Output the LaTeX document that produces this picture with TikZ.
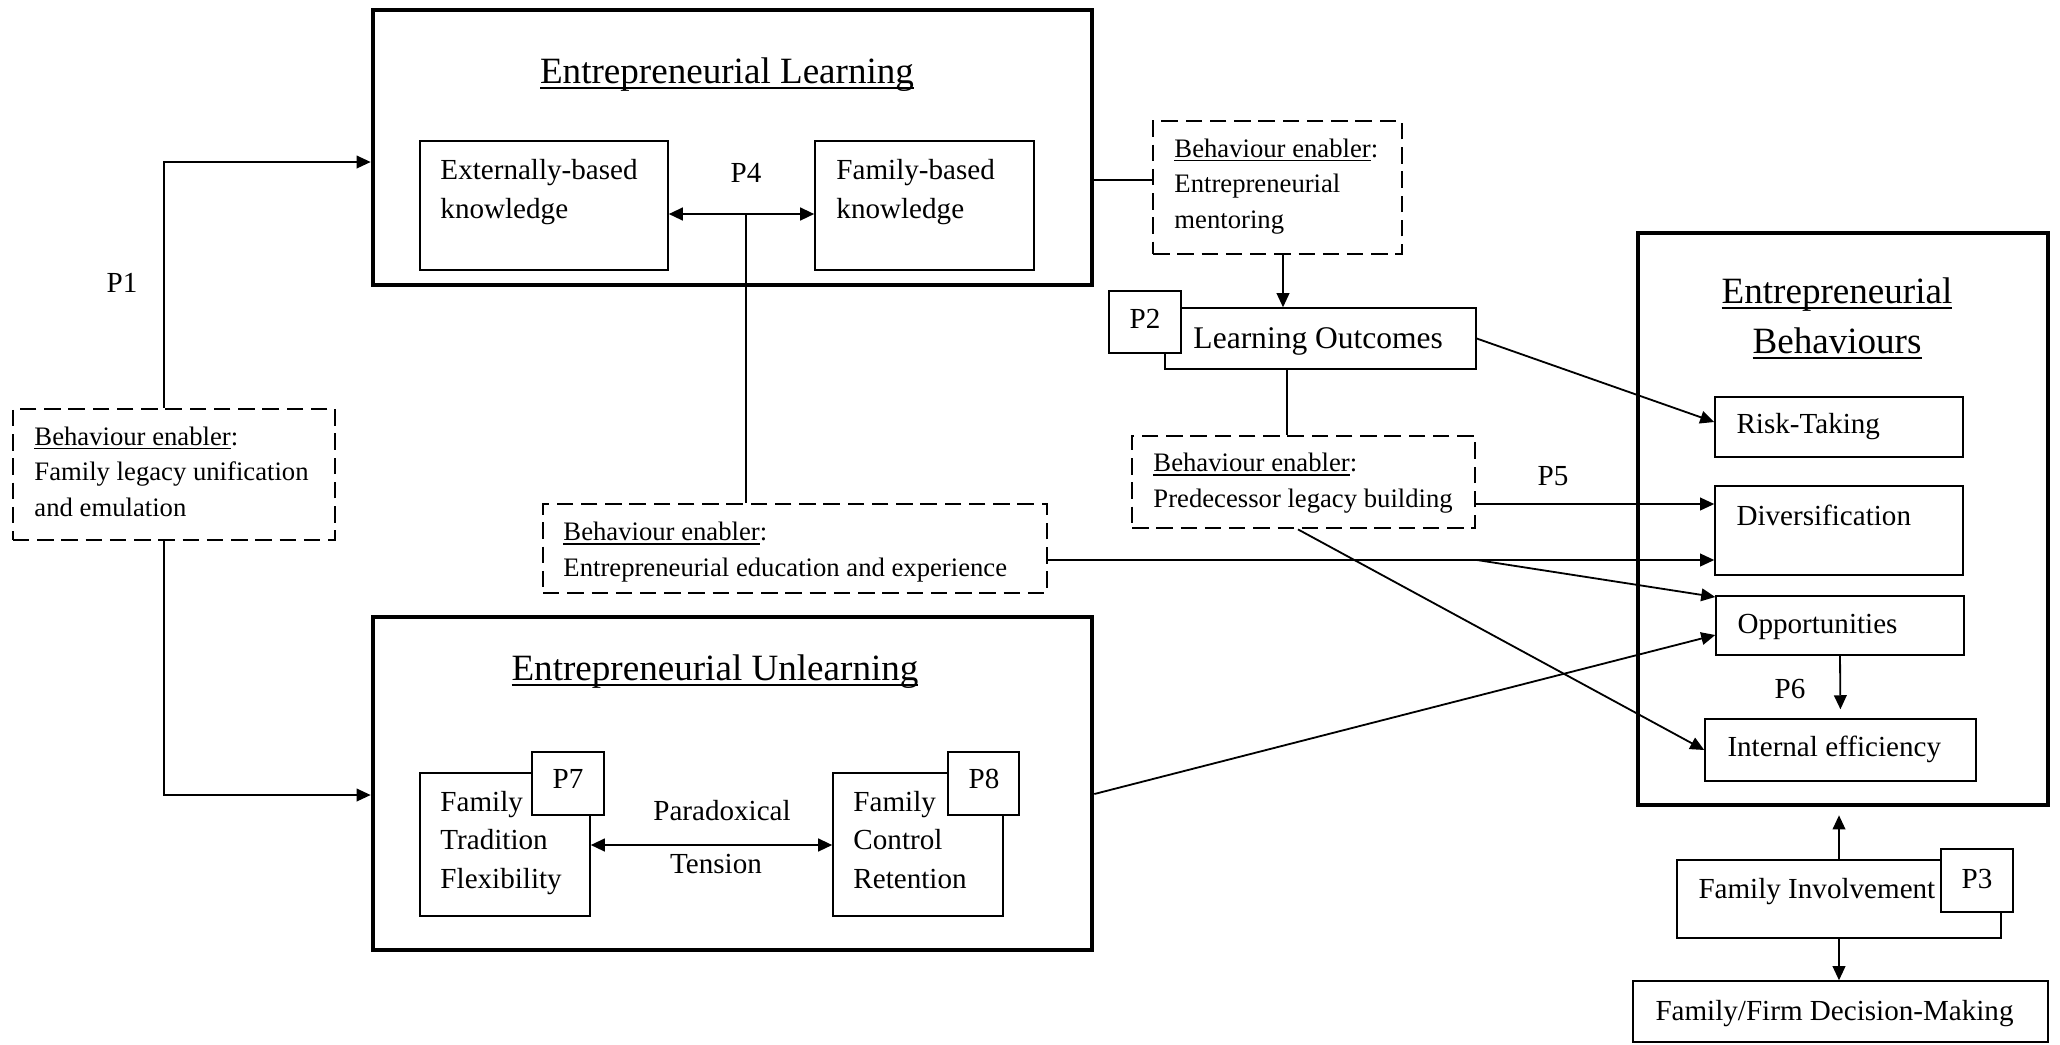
\documentclass[tikz,border=0pt]{standalone}
\usepackage{fontspec}
\setmainfont{Liberation Serif}
\usetikzlibrary{arrows.meta,fit,calc}
\newcommand\ulin[1]{\leavevmode\setbox0=\hbox{#1}\rlap{\rule[-0.15em]{\wd0}{0.055em}}\box0}
\tikzset{
  frame/.style={draw, line width=1.9pt, inner sep=0pt},
  box/.style={draw, line width=0.6pt, inner sep=0pt},
  pbox/.style={draw, line width=0.6pt, fill=white, inner sep=0pt},
  enabler/.style={draw, line width=1.15pt, dash pattern=on 6.8pt off 3.2pt, inner sep=0pt},
  txt/.style={inner sep=0pt, align=left, font=\fontsize{12}{15.7}\selectfont},
  etxt/.style={inner sep=0pt, align=left, font=\fontsize{11}{14.6}\selectfont},
  head/.style={inner sep=0pt, align=center, font=\fontsize{15.3}{20.5}\selectfont},
  arr/.style={-{Triangle[length=5.8pt,width=5.2pt]}, line width=0.75pt},
  dbl/.style={{Triangle[length=5.8pt,width=5.2pt]}-{Triangle[length=5.8pt,width=5.2pt]}, line width=1pt},
  link/.style={line width=0.75pt},
}

\begin{document}
\begin{tikzpicture}[x=0.4124pt, y=-0.4124pt]
  \useasboundingbox (0,0) rectangle (2060,1044);

  % learning
  \node[frame, fit={(373,10) (1092,285)}] (learn) {};
  \node[head, anchor=base] (learn-t) at (727,83) {\ulin{Entrepreneurial Learning}};
  \node[box, fit={(420,141) (668,270)}] (ext) {};
  \node[txt, anchor=base west] (ext-t) at (440,218) {Externally-based\\knowledge};
  \node[box, fit={(815,141) (1034,270)}] (fam) {};
  \node[txt, anchor=base west] (fam-t) at (836,218) {Family-based\\knowledge};
  \node[txt, anchor=base] (p4) at (746,182) {P4};

  % unlearning
  \node[frame, fit={(373,617) (1092,950)}] (unlearn) {};
  \node[head, anchor=base] (unlearn-t) at (715,680) {\ulin{Entrepreneurial Unlearning}};
  \node[box, fit={(420,773) (590,916)}] (ftf) {};
  \node[txt, anchor=base west] (ftf-t) at (440,888) {Family\\Tradition\\Flexibility};
  \node[pbox, fit={(532,752) (604,815)}] (p7) {};
  \node[txt, anchor=base] (p7-t) at (568,788) {P7};
  \node[box, fit={(833,773) (1003,916)}] (fcr) {};
  \node[txt, anchor=base west] (fcr-t) at (853,888) {Family\\Control\\Retention};
  \node[pbox, fit={(948,752) (1019,815)}] (p8) {};
  \node[txt, anchor=base] (p8-t) at (984,788) {P8};
  \node[txt, anchor=base] (tension-a) at (722,820) {Paradoxical};
  \node[txt, anchor=base] (tension-b) at (716,873) {Tension};

  % enablers
  \node[enabler, fit={(13,409) (335,540)}] (legacy) {};
  \node[etxt, anchor=base west] (legacy-t) at (34,516) {\ulin{Behaviour enabler}:\\Family legacy unification\\and emulation};
  \node[enabler, fit={(1153,121) (1402,254)}] (mentor) {};
  \node[etxt, anchor=base west] (mentor-t) at (1174,228) {\ulin{Behaviour enabler}:\\Entrepreneurial\\mentoring};
  \node[enabler, fit={(1132,436) (1475,528)}] (pred) {};
  \node[etxt, anchor=base west] (pred-t) at (1153,507) {\ulin{Behaviour enabler}:\\Predecessor legacy building};
  \node[enabler, fit={(543,504) (1047,593)}] (edu) {};
  \node[etxt, anchor=base west] (edu-t) at (563,576) {\ulin{Behaviour enabler}:\\Entrepreneurial education and experience};

  % outcomes
  \node[box, fit={(1165,308) (1476,369)}] (lo) {};
  \node[txt, anchor=base west, font=\fontsize{13}{16}\selectfont] (lo-t) at (1193,348) {Learning Outcomes};
  \node[pbox, fit={(1109,291) (1181,353)}] (p2) {};
  \node[txt, anchor=base] (p2-t) at (1145,328) {P2};

  % behaviours
  \node[frame, fit={(1638,233) (2048,805)}] (behav) {};
  \node[head, anchor=base] (behav-t) at (1837,353) {\ulin{Entrepreneurial}\\\ulin{Behaviours}};
  \foreach \nm/\lbl/\xa/\ya/\xb/\yb/\xt/\yt in {rt/Risk-Taking/1715/397/1963/457/1736/433,
      div/Diversification/1715/486/1963/575/1736/525,
      opp/Opportunities/1716/596/1964/655/1737/633,
      ie/Internal efficiency/1705/719/1976/781/1727/756}
    { \node[box, fit={(\xa,\ya) (\xb,\yb)}] (\nm) {};
      \node[txt, anchor=base west] (\nm-t) at (\xt,\yt) {\lbl}; }

  % family
  \node[box, fit={(1677,860) (2001,938)}] (fi) {};
  \node[txt, anchor=base west] (fi-t) at (1698,898) {Family Involvement};
  \node[pbox, fit={(1941,849) (2013,912)}] (p3) {};
  \node[txt, anchor=base] (p3-t) at (1977,888) {P3};
  \node[box, fit={(1633,981) (2048,1042)}] (dec) {};
  \node[txt, anchor=base west] (dec-t) at (1655,1020) {Family/Firm Decision-Making};

  \node[txt, anchor=base] (p1) at (122,292) {P1};
  \node[txt, anchor=base] (p5) at (1553,485) {P5};
  \node[txt, anchor=base] (p6) at (1790,698) {P6};

  % connectors
  \draw[arr] (legacy.north -| 164,0) |- (learn.west |- 0,162);
  \draw[arr] (legacy.south -| 164,0) |- (unlearn.west |- 0,795);
  \draw[dbl] (ext.east |- 0,214) -- (fam.west |- 0,214);
  \coordinate (p4-j) at (746,214);
  \draw[link] (p4-j) -- (edu.north -| p4-j);
  \draw[dbl] (ftf.east |- 0,845) -- (fcr.west |- 0,845);
  \draw[link] (learn.east |- 0,180) -- (mentor.west |- 0,180);
  \draw[arr] (mentor.south -| 1283,0) -- (lo.north -| 1283,0);
  \draw[link] (lo.south -| 1287,0) -- (pred.north -| 1287,0);
  \draw[arr] (lo.east) -- (rt.west |- 0,422);
  \draw[arr] (pred.east |- 0,504) -- (div.west |- 0,504);
  \coordinate (edu-j) at (1477,560);
  \draw[arr] (edu.east |- 0,560) -- (div.west |- 0,560);
  \draw[arr] (edu-j) -- (opp.west |- 0,597);
  \draw[arr] (unlearn.east |- 0,794) -- (opp.west |- 0,635);
  \draw[arr] (pred.south -| 1298,0) -- (ie.west);
  \draw[arr, shorten >=3.7pt] (opp.south) -- (ie.north);
  \draw[arr, shorten >=3.3pt] (fi.north) -- (fi.north |- behav.south);
  \draw[arr] (fi.south) -- (fi.south |- dec.north);
\end{tikzpicture}
\end{document}
